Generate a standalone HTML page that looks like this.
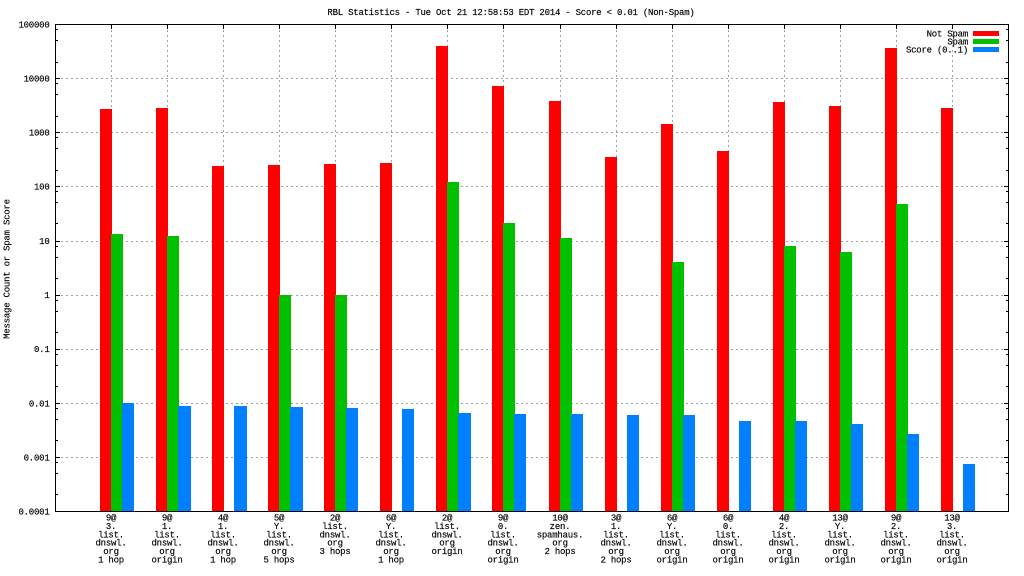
<!DOCTYPE html>
<html>
<head>
<meta charset="utf-8">
<style>
html,body{margin:0;padding:0;background:#fff;}
svg{display:block;}
text{font-family:"Liberation Mono","DejaVu Sans Mono",monospace;font-size:9px;letter-spacing:-0.23px;fill:#000;stroke:#000;stroke-width:0.15px;}
</style>
</head>
<body>
<svg width="1024" height="576" viewBox="0 0 1024 576" xmlns="http://www.w3.org/2000/svg">
<rect x="0" y="0" width="1024" height="576" fill="#fff"/>

<!-- title -->
<text x="511" y="15" text-anchor="middle">RBL Statistics - Tue Oct 21 12:58:53 EDT 2014 - Score &lt; 0.01 (Non-Spam)</text>

<!-- y axis label -->
<text transform="translate(9.5,269) rotate(-90)" text-anchor="middle">Message Count or Spam Score</text>

<!-- grid -->
<g stroke="#a0a0a0" stroke-width="1" stroke-dasharray="2,3" fill="none" shape-rendering="crispEdges">
<path d="M56 78.5H1008M56 132.5H1008M56 186.5H1008M56 241.5H1008M56 295.5H1008M56 349.5H1008M56 403.5H1008M56 457.5H1008"/>
<path d="M111.5 25V511M167.5 25V511M223.5 25V511M279.5 25V511M335.5 25V511M391.5 25V511M447.5 25V511M503.5 25V511M560.5 25V511M616.5 25V511M672.5 25V511M728.5 25V511M784.5 25V511M840.5 25V511M896.5 25V511M952.5 25V511"/>
</g>

<!-- bars: Not Spam -->
<g fill="#ff0000" shape-rendering="crispEdges">
<rect x="100" y="109" width="12" height="402"/>
<rect x="156" y="108" width="12" height="403"/>
<rect x="212" y="166" width="12" height="345"/>
<rect x="268" y="165" width="12" height="346"/>
<rect x="324" y="164" width="12" height="347"/>
<rect x="380" y="163" width="12" height="348"/>
<rect x="436" y="46" width="12" height="465"/>
<rect x="492" y="86" width="12" height="425"/>
<rect x="549" y="101" width="12" height="410"/>
<rect x="605" y="157" width="12" height="354"/>
<rect x="661" y="124" width="12" height="387"/>
<rect x="717" y="151" width="12" height="360"/>
<rect x="773" y="102" width="12" height="409"/>
<rect x="829" y="106" width="12" height="405"/>
<rect x="885" y="48" width="12" height="463"/>
<rect x="941" y="108" width="12" height="403"/>
</g>
<!-- bars: Spam -->
<g fill="#00c000" shape-rendering="crispEdges">
<rect x="111" y="234" width="12" height="277"/>
<rect x="167" y="236" width="12" height="275"/>
<rect x="279" y="295" width="12" height="216"/>
<rect x="335" y="295" width="12" height="216"/>
<rect x="447" y="182" width="12" height="329"/>
<rect x="503" y="223" width="12" height="288"/>
<rect x="560" y="238" width="12" height="273"/>
<rect x="672" y="262" width="12" height="249"/>
<rect x="784" y="246" width="12" height="265"/>
<rect x="840" y="252" width="12" height="259"/>
<rect x="896" y="204" width="12" height="307"/>
</g>
<!-- bars: Score -->
<g fill="#0080ff" shape-rendering="crispEdges">
<rect x="122" y="403" width="12" height="108"/>
<rect x="178" y="406" width="13" height="105"/>
<rect x="234" y="406" width="13" height="105"/>
<rect x="290" y="407" width="13" height="104"/>
<rect x="346" y="408" width="12" height="103"/>
<rect x="402" y="409" width="12" height="102"/>
<rect x="458" y="413" width="13" height="98"/>
<rect x="514" y="414" width="12" height="97"/>
<rect x="571" y="414" width="12" height="97"/>
<rect x="627" y="415" width="12" height="96"/>
<rect x="683" y="415" width="12" height="96"/>
<rect x="739" y="421" width="12" height="90"/>
<rect x="795" y="421" width="12" height="90"/>
<rect x="851" y="424" width="12" height="87"/>
<rect x="907" y="434" width="12" height="77"/>
<rect x="963" y="464" width="12" height="47"/>
</g>

<!-- border and ticks -->
<g stroke="#000" stroke-width="1" fill="none" shape-rendering="crispEdges">
<rect x="55.5" y="24.5" width="953" height="487"/>
<path d="M56 78.5H60M56 132.5H60M56 186.5H60M56 241.5H60M56 295.5H60M56 349.5H60M56 403.5H60M56 457.5H60"/>
<path d="M1008 78.5H1004M1008 132.5H1004M1008 186.5H1004M1008 241.5H1004M1008 295.5H1004M1008 349.5H1004M1008 403.5H1004M1008 457.5H1004"/>
<path d="M56 29.5H58M56 40.5H58M56 62.5H58M56 83.5H58M56 94.5H58M56 116.5H58M56 137.5H58M56 148.5H58M56 170.5H58M56 191.5H58M56 202.5H58M56 223.5H58M56 246.5H58M56 257.5H58M56 278.5H58M56 300.5H58M56 311.5H58M56 332.5H58M56 354.5H58M56 365.5H58M56 386.5H58M56 408.5H58M56 419.5H58M56 440.5H58M56 462.5H58M56 473.5H58M56 494.5H58"/>
<path d="M1008 29.5H1006M1008 40.5H1006M1008 62.5H1006M1008 83.5H1006M1008 94.5H1006M1008 116.5H1006M1008 137.5H1006M1008 148.5H1006M1008 170.5H1006M1008 191.5H1006M1008 202.5H1006M1008 223.5H1006M1008 246.5H1006M1008 257.5H1006M1008 278.5H1006M1008 300.5H1006M1008 311.5H1006M1008 332.5H1006M1008 354.5H1006M1008 365.5H1006M1008 386.5H1006M1008 408.5H1006M1008 419.5H1006M1008 440.5H1006M1008 462.5H1006M1008 473.5H1006M1008 494.5H1006"/>
<path d="M111.5 25V29M167.5 25V29M223.5 25V29M279.5 25V29M335.5 25V29M391.5 25V29M447.5 25V29M503.5 25V29M560.5 25V29M616.5 25V29M672.5 25V29M728.5 25V29M784.5 25V29M840.5 25V29M896.5 25V29M952.5 25V29"/>
</g>

<!-- y tick labels -->
<g text-anchor="end">
<text x="49.5" y="27.5">100000</text>
<text x="49.5" y="81.5">10000</text>
<text x="49.5" y="135.5">1000</text>
<text x="49.5" y="189.5">100</text>
<text x="49.5" y="244">10</text>
<text x="49.5" y="298">1</text>
<text x="49.5" y="352">0.1</text>
<text x="49.5" y="406.5">0.01</text>
<text x="49.5" y="460.5">0.001</text>
<text x="49.5" y="514.5">0.0001</text>
</g>

<!-- legend -->
<g text-anchor="end">
<text x="968" y="36.5">Not Spam</text>
<text x="968" y="44.5">Spam</text>
<text x="968" y="52.5">Score (0..1)</text>
</g>
<g shape-rendering="crispEdges">
<rect x="973" y="31" width="26" height="5" fill="#ff0000"/>
<rect x="973" y="39" width="26" height="5" fill="#00c000"/>
<rect x="973" y="47" width="26" height="5" fill="#0080ff"/>
</g>

<!-- x tick labels -->
<g text-anchor="middle">
<text x="111" y="520.5">9@</text><text x="111" y="528.9">3.</text><text x="111" y="537.3">list.</text><text x="111" y="545.7">dnswl.</text><text x="111" y="554.1">org</text><text x="111" y="562.5">1 hop</text>
<text x="167" y="520.5">9@</text><text x="167" y="528.9">1.</text><text x="167" y="537.3">list.</text><text x="167" y="545.7">dnswl.</text><text x="167" y="554.1">org</text><text x="167" y="562.5">origin</text>
<text x="223" y="520.5">4@</text><text x="223" y="528.9">1.</text><text x="223" y="537.3">list.</text><text x="223" y="545.7">dnswl.</text><text x="223" y="554.1">org</text><text x="223" y="562.5">1 hop</text>
<text x="279" y="520.5">5@</text><text x="279" y="528.9">Y.</text><text x="279" y="537.3">list.</text><text x="279" y="545.7">dnswl.</text><text x="279" y="554.1">org</text><text x="279" y="562.5">5 hops</text>
<text x="335" y="520.5">2@</text><text x="335" y="528.9">list.</text><text x="335" y="537.3">dnswl.</text><text x="335" y="545.7">org</text><text x="335" y="554.1">3 hops</text>
<text x="391" y="520.5">6@</text><text x="391" y="528.9">Y.</text><text x="391" y="537.3">list.</text><text x="391" y="545.7">dnswl.</text><text x="391" y="554.1">org</text><text x="391" y="562.5">1 hop</text>
<text x="447" y="520.5">2@</text><text x="447" y="528.9">list.</text><text x="447" y="537.3">dnswl.</text><text x="447" y="545.7">org</text><text x="447" y="554.1">origin</text>
<text x="503" y="520.5">9@</text><text x="503" y="528.9">0.</text><text x="503" y="537.3">list.</text><text x="503" y="545.7">dnswl.</text><text x="503" y="554.1">org</text><text x="503" y="562.5">origin</text>
<text x="560" y="520.5">10@</text><text x="560" y="528.9">zen.</text><text x="560" y="537.3">spamhaus.</text><text x="560" y="545.7">org</text><text x="560" y="554.1">2 hops</text>
<text x="616" y="520.5">3@</text><text x="616" y="528.9">1.</text><text x="616" y="537.3">list.</text><text x="616" y="545.7">dnswl.</text><text x="616" y="554.1">org</text><text x="616" y="562.5">2 hops</text>
<text x="672" y="520.5">6@</text><text x="672" y="528.9">Y.</text><text x="672" y="537.3">list.</text><text x="672" y="545.7">dnswl.</text><text x="672" y="554.1">org</text><text x="672" y="562.5">origin</text>
<text x="728" y="520.5">6@</text><text x="728" y="528.9">0.</text><text x="728" y="537.3">list.</text><text x="728" y="545.7">dnswl.</text><text x="728" y="554.1">org</text><text x="728" y="562.5">origin</text>
<text x="784" y="520.5">4@</text><text x="784" y="528.9">2.</text><text x="784" y="537.3">list.</text><text x="784" y="545.7">dnswl.</text><text x="784" y="554.1">org</text><text x="784" y="562.5">origin</text>
<text x="840" y="520.5">13@</text><text x="840" y="528.9">Y.</text><text x="840" y="537.3">list.</text><text x="840" y="545.7">dnswl.</text><text x="840" y="554.1">org</text><text x="840" y="562.5">origin</text>
<text x="896" y="520.5">9@</text><text x="896" y="528.9">2.</text><text x="896" y="537.3">list.</text><text x="896" y="545.7">dnswl.</text><text x="896" y="554.1">org</text><text x="896" y="562.5">origin</text>
<text x="952" y="520.5">13@</text><text x="952" y="528.9">3.</text><text x="952" y="537.3">list.</text><text x="952" y="545.7">dnswl.</text><text x="952" y="554.1">org</text><text x="952" y="562.5">origin</text>
</g>
</svg>
</body>
</html>
